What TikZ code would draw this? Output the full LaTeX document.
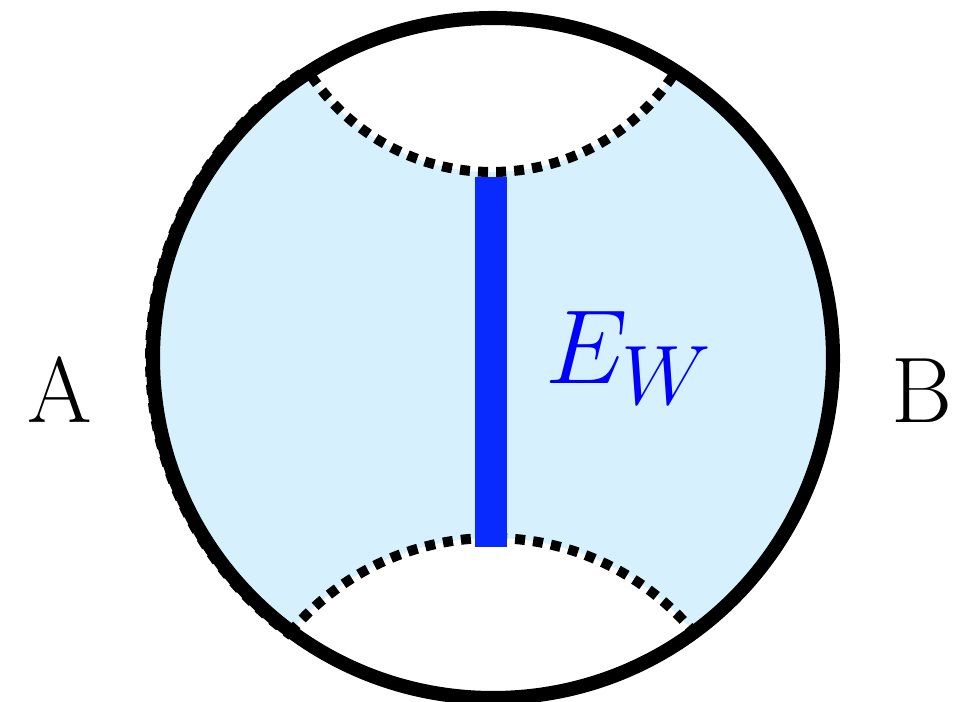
\documentclass[tikz,border=0pt]{standalone}
\usepackage{fix-cm}
\DeclareMathSizes{60}{60}{48}{36}
\definecolor{wedgefill}{RGB}{214,241,253}
\definecolor{ewblue}{RGB}{8,42,255}
\begin{document}
\begin{tikzpicture}[x=0.02cm, y=0.02cm,
    rim/.style={draw=black, line width=8pt},
    geodesic/.style={draw=black, line width=5.7pt, dash pattern=on 5.7pt off 4.6pt},
    ewbar/.style={draw=ewblue, line width=18.2pt},
    region/.style={font=\fontsize{53}{60}\selectfont},
    ewlabel/.style={text=blue, font=\fontsize{60}{70}\selectfont}]
    \useasboundingbox (0,0) rectangle (974,701);

    % Disque et geodesiques
    \coordinate (O) at (493,343);
    \coordinate (Ctop) at (492,747);
    \coordinate (Cbot) at (492,-100);

    % Coin colore
    \begin{scope}
        \clip (O) circle (340);
        \fill[wedgefill] (O) circle (340);
        \fill[white] (Ctop) circle (218);
        \fill[white] (Cbot) circle (263);
        \draw[geodesic] (Ctop) circle (218);
        \draw[geodesic] (Cbot) circle (263);
    \end{scope}
    \draw[geodesic] (O) ++(124:343) arc[start angle=124, end angle=234, radius=343];
    \draw[rim] (O) circle (340);

    % Surface E_W
    \coordinate (top) at (491,524);
    \coordinate (bot) at (491,154);
    \draw[ewbar] (top) -- (bot);

    % Etiquettes
    \node[region, anchor=base] (A) at (60,279) {A};
    \node[region, anchor=base] (B) at (922,279) {B};
    \node[ewlabel, anchor=base west, inner sep=0pt] (EW) at (545,318) {$E_W$};
\end{tikzpicture}
\end{document}
